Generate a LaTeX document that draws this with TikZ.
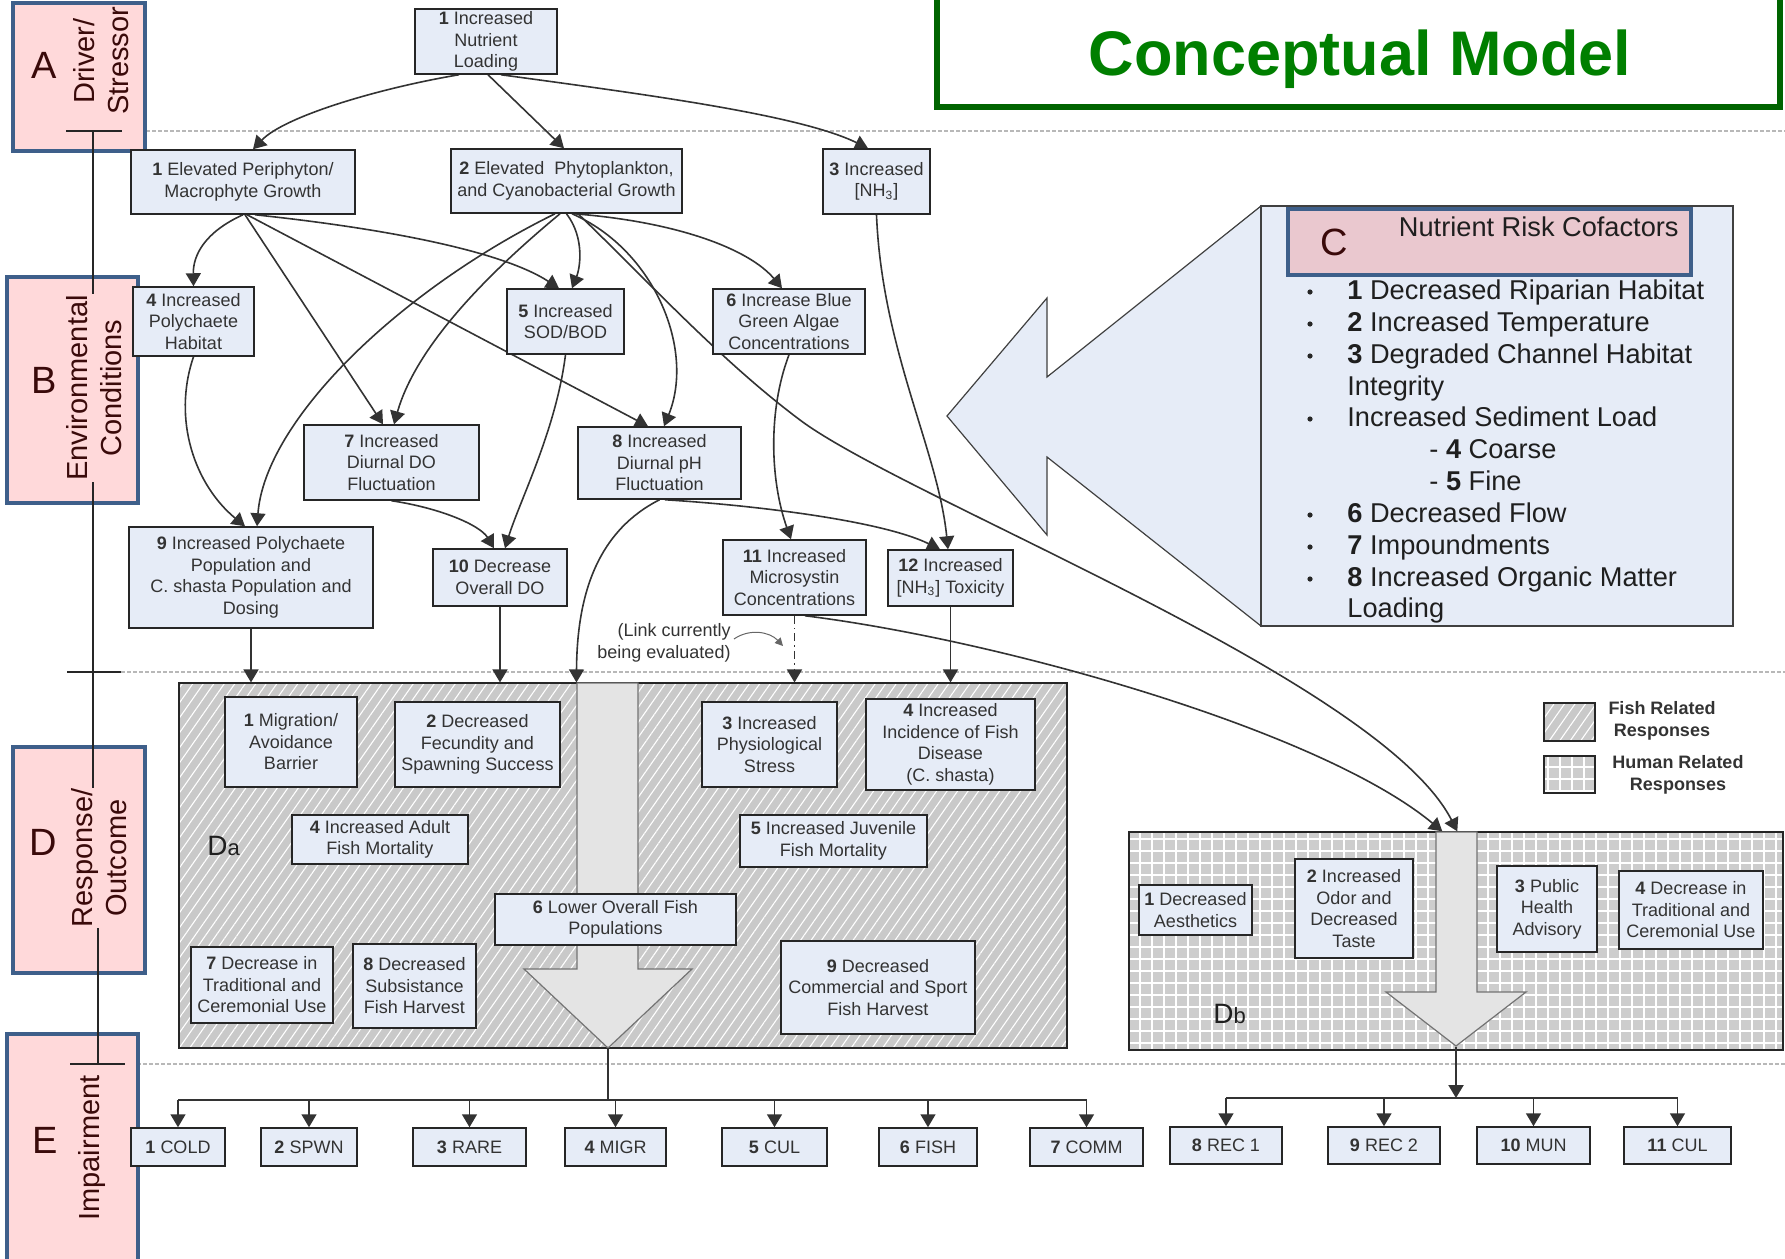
\documentclass[tikz,border=0pt]{standalone}
\usepackage{fontspec}
\setmainfont{Liberation Sans}
\usetikzlibrary{arrows.meta,patterns.meta,calc}
\pgfdeclarelayer{bg}
\pgfdeclarelayer{conn}
\pgfsetlayers{bg,conn,main}
\definecolor{boxfill}{HTML}{E6ECF7}
\definecolor{boxline}{HTML}{262626}
\definecolor{txt}{HTML}{333333}
\definecolor{lblfill}{HTML}{FFD9DA}
\definecolor{lblline}{HTML}{3E5F8A}
\definecolor{lbltxt}{HTML}{3A0A0A}
\definecolor{cfill}{HTML}{EAC8CF}
\definecolor{arrc}{HTML}{333333}
\definecolor{hatchg}{HTML}{C9C9C9}
\definecolor{gridg}{HTML}{CDCDCD}
\definecolor{bigarr}{HTML}{E4E4E4}
\definecolor{titleg}{HTML}{007F00}
\definecolor{titleb}{HTML}{006400}
\definecolor{dashc}{HTML}{B8B8B8}
\newcommand\mkbox[7][bx]{\node[#1,minimum width={(#5-#3)*0.5pt},minimum height={(#6-#4)*0.5pt}] (#2) at ({(#3+#5)/2},{(#4+#6)/2}) {#7};}
\begin{document}
\begin{tikzpicture}[x=0.5pt,y=-0.5pt,
  bx/.style={draw=boxline, fill=boxfill, line width=0.75pt, align=center, font=\fontsize{9}{10.75}\selectfont, text=txt, inner sep=1pt},
  arr/.style={draw=arrc, line width=0.8pt, -{Triangle[length=6.5pt,width=7.5pt]}},
  smallarr/.style={draw=black!60, line width=0.5pt, -{Triangle[length=4pt,width=4pt]}},
  lbl/.style={draw=lblline, fill=lblfill, line width=2.2pt},
  lbltext/.style={text=lbltxt, font=\fontsize{14.5}{17}\selectfont, align=center, rotate=90, fill=lblfill, inner sep=0.5pt},
  bigl/.style={text=lbltxt, font=\fontsize{19}{19}\selectfont, inner sep=0pt},
  tl/.style={draw=black!85, line width=0.55pt},
  dashl/.style={draw=dashc, line width=0.6pt, dash pattern=on 2pt off 1pt},
  fishbg/.style={draw=boxline, line width=0.9pt, preaction={fill=hatchg}, pattern={Lines[angle=55,distance=4.3pt,line width=0.55pt]}, pattern color=white},
  humanbg/.style={draw=boxline, line width=0.9pt, preaction={fill=gridg}, pattern={Hatch[angle=0,distance=6pt,line width=0.7pt]}, pattern color=white},
  bigarrow/.style={draw=black!55, fill=bigarr, line width=0.6pt},
  barl/.style={draw=arrc, line width=1.1pt},
  titlebox/.style={draw=titleb, fill=white, line width=3pt},
  titletext/.style={text=titleg, font=\fontsize{31.5}{32}\selectfont\bfseries, inner sep=0pt},
  cpan/.style={draw=black!75, fill=boxfill, line width=0.6pt},
  chead/.style={draw=lblline, fill=cfill, line width=2pt},
  ctxt/.style={font=\fontsize{13.6}{16}\selectfont, text=black!88, inner sep=0pt},
  legtxt/.style={font=\fontsize{9}{11}\selectfont\bfseries, text=txt, align=center, inner sep=0pt},
  dlbl/.style={font=\fontsize{14}{14}\selectfont, text=black!88, inner sep=0pt}
]
\useasboundingbox (0,0) rectangle (1785,1259);

\begin{pgfonlayer}{bg}
% dashed separators
\draw[dashl] (122,131) -- (1785,131);
\draw[dashl] (121,672) -- (1785,672);
\draw[dashl] (125,1064) -- (1785,1064);
% C panel
\draw[cpan] (1261,206) -- (1047,377) -- (1047,298) -- (947,416) -- (1047,535) -- (1047,457) -- (1261,626) -- cycle;
\mkbox[cpan]{cpanel}{1261}{206}{1733}{626}{}
% D backgrounds
\mkbox[fishbg]{da}{179}{683}{1067}{1048}{}
\mkbox[humanbg]{db}{1129}{832}{1783}{1050}{}
\draw[bigarrow] (577,683) -- (577,969) -- (524,969) -- (608,1048) -- (692,969) -- (638,969) -- (638,683) -- cycle;
\draw[bigarrow] (1436,832) -- (1436,992) -- (1386,992) -- (1456,1046) -- (1526,992) -- (1477,992) -- (1477,832) -- cycle;
\end{pgfonlayer}

% title
\mkbox[titlebox]{titlebox}{937}{-20}{1780}{107}{}
\node[titletext, anchor=base] (title) at (1360,75) {Conceptual Model};

% left labels
\mkbox[lbl]{lA}{13}{3}{145}{151}{}
\mkbox[lbl]{lB}{7}{277}{138}{503}{}
\mkbox[lbl]{lD}{13}{747}{145}{973}{}
\mkbox[lbl]{lE}{7}{1034}{138}{1275}{}
\draw[tl] (93,131) -- (93,860) -- (98,860) -- (98,1064);
\draw[tl] (66,131) -- (122,131);
\draw[tl] (67,672) -- (121,672);
\draw[tl] (70,1064) -- (125,1064);
\node[bigl] (A) at (44,65) {A};
\node[lbltext] (tA) at (101.5,61) {Driver/\\Stressor};
\node[bigl] (B) at (44,380) {B};
\node[lbltext] (tB) at (94,388) {Environmental\\Conditions};
\node[bigl] (D) at (43,842) {D};
\node[lbltext] (tD) at (99.5,858) {Response/\\Outcome};
\node[bigl] (E) at (45,1140) {E};
\node[lbltext] (tE) at (92,1148) {Impairment};

% C panel content
\mkbox[chead]{chead}{1288}{209}{1691}{275}{}
\node[bigl] (C) at (1334,242) {C};
\node[ctxt, anchor=base east] (chtxt) at (1679,236) {Nutrient Risk Cofactors};
\foreach \yy in {299,331,363,426,522,554,586} \fill[black!85] (1310,{\yy-7}) circle (1.3pt);
\node[ctxt, anchor=base west] (c1) at (1347,299) {\textbf{1} Decreased Riparian Habitat};
\node[ctxt, anchor=base west] (c2) at (1347,331) {\textbf{2} Increased Temperature};
\node[ctxt, anchor=base west] (c3) at (1347,363) {\textbf{3} Degraded Channel Habitat};
\node[ctxt, anchor=base west] (c3b) at (1347,395) {Integrity};
\node[ctxt, anchor=base west] (cs) at (1347,426) {Increased Sediment Load};
\node[ctxt, anchor=base west] (c4) at (1429,458) {- \textbf{4} Coarse};
\node[ctxt, anchor=base west] (c5) at (1429,490) {- \textbf{5} Fine};
\node[ctxt, anchor=base west] (c6) at (1347,522) {\textbf{6} Decreased Flow};
\node[ctxt, anchor=base west] (c7) at (1347,554) {\textbf{7} Impoundments};
\node[ctxt, anchor=base west] (c8) at (1347,586) {\textbf{8} Increased Organic Matter};
\node[ctxt, anchor=base west] (c8b) at (1347,617) {Loading};

\coordinate (datip) at (608,1048);
\coordinate (dbtip) at (1456,1047);
\node[dlbl, anchor=base west] (dalbl) at (207,855) {D{\fontsize{11}{11}\selectfont a}};
\node[dlbl, anchor=base west] (dblbl) at (1213,1023) {D{\fontsize{11}{11}\selectfont b}};

% legend
\mkbox[fishbg]{lg1}{1544}{703}{1595}{741}{}
\mkbox[humanbg]{lg2}{1544}{756}{1595}{793}{}
\node[legtxt] (lg1t) at (1662,721) {Fish Related\\Responses};
\node[legtxt] (lg2t) at (1678,775) {Human Related\\Responses};

% row A / B boxes
\mkbox{n1}{415}{9}{557}{74}{\textbf{1} Increased\\Nutrient\\Loading}
\mkbox{e1}{131}{150}{355}{214}{\textbf{1} Elevated Periphyton/\\Macrophyte Growth}
\mkbox{e2}{451}{149}{682}{213}{\textbf{2} Elevated\ \ Phytoplankton,\\and Cyanobacterial Growth}
\mkbox{e3}{823}{149}{930}{214}{\textbf{3} Increased\\{[NH\textsubscript{3}]}}
\mkbox{b4}{133}{287}{254}{356}{\textbf{4} Increased\\Polychaete\\Habitat}
\mkbox{b5}{507}{289}{624}{354}{\textbf{5} Increased\\SOD/BOD}
\mkbox{b6}{713}{289}{865}{354}{\textbf{6} Increase Blue\\Green Algae\\Concentrations}
\mkbox{b7}{304}{425}{479}{500}{\textbf{7} Increased\\Diurnal DO\\Fluctuation}
\mkbox{b8}{578}{427}{741}{499}{\textbf{8} Increased\\Diurnal pH\\Fluctuation}
\mkbox{b9}{129}{527}{373}{628}{\textbf{9} Increased Polychaete\\Population and\\C. shasta Population and\\Dosing}
\mkbox{b10}{433}{549}{567}{606}{\textbf{10} Decrease\\Overall DO}
\mkbox{b11}{723}{540}{866}{615}{\textbf{11} Increased\\Microsystin\\Concentrations}
\mkbox{b12}{888}{550}{1013}{606}{\textbf{12} Increased\\{[NH\textsubscript{3}]} Toxicity}

% Da boxes
\mkbox{d1}{225}{697}{357}{787}{\textbf{1} Migration/\\Avoidance\\Barrier}
\mkbox{d2}{395}{702}{560}{787}{\textbf{2} Decreased\\Fecundity and\\Spawning Success}
\mkbox{d3}{702}{702}{837}{787}{\textbf{3} Increased\\Physiological\\Stress}
\mkbox{d4f}{866}{699}{1035}{790}{\textbf{4} Increased\\Incidence of Fish\\Disease\\(C. shasta)}
\mkbox{d4}{292}{815}{468}{864}{\textbf{4} Increased Adult\\Fish Mortality}
\mkbox{d5}{740}{815}{927}{867}{\textbf{5} Increased Juvenile\\Fish Mortality}
\mkbox{d6}{495}{894}{736}{945}{\textbf{6} Lower Overall Fish\\Populations}
\mkbox{d7}{191}{947}{333}{1023}{\textbf{7} Decrease in\\Traditional and\\Ceremonial Use}
\mkbox{d8}{353}{944}{476}{1028}{\textbf{8} Decreased\\Subsistance\\Fish Harvest}
\mkbox{d9}{781}{941}{975}{1034}{\textbf{9} Decreased\\Commercial and Sport\\Fish Harvest}

% Db boxes
\mkbox{h1}{1139}{885}{1252}{935}{\textbf{1} Decreased\\Aesthetics}
\mkbox{h2}{1295}{859}{1413}{958}{\textbf{2} Increased\\Odor and\\Decreased\\Taste}
\mkbox{h3}{1497}{866}{1597}{952}{\textbf{3} Public\\Health\\Advisory}
\mkbox{h4}{1619}{871}{1763}{949}{\textbf{4} Decrease in\\Traditional and\\Ceremonial Use}

% E row
\mkbox{cold}{131}{1128}{225}{1166}{\textbf{1} COLD}
\mkbox{spwn}{261}{1128}{357}{1166}{\textbf{2} SPWN}
\mkbox{rare}{413}{1128}{526}{1166}{\textbf{3} RARE}
\mkbox{migr}{565}{1128}{666}{1166}{\textbf{4} MIGR}
\mkbox{cul}{722}{1128}{827}{1166}{\textbf{5} CUL}
\mkbox{fish}{879}{1128}{977}{1166}{\textbf{6} FISH}
\mkbox{comm}{1030}{1128}{1143}{1166}{\textbf{7} COMM}
\mkbox{rec1}{1170}{1127}{1282}{1164}{\textbf{8} REC 1}
\mkbox{rec2}{1328}{1127}{1440}{1164}{\textbf{9} REC 2}
\mkbox{mun}{1477}{1127}{1590}{1164}{\textbf{10} MUN}
\mkbox{cul2}{1624}{1127}{1731}{1164}{\textbf{11} CUL}

\node[font=\fontsize{9}{10.75}\selectfont, text=txt, align=right, inner sep=0pt] (linklbl) at (664,643) {(Link currently\\being evaluated)};
\coordinate (linktip) at (783,646);

% connectors (behind boxes)
\begin{pgfonlayer}{conn}
\draw[arr] ($(n1.south)+(-27,0)$) .. controls (380,88) and (285,116) .. ($(e1.north)+(10,0)$);
\draw[arr] ($(n1.south)+(2,0)$) -- ($(e2.north)+(-2.5,0)$);
\draw[arr] ($(n1.south)+(15,0)$) .. controls (650,95) and (800,115) .. ($(e3.north)+(-8.5,0)$);
\draw[arr] (e1.south) .. controls (205,232) and (193,255) .. (b4.north);
\draw[arr] ($(e1.south)+(2,0)$) -- ($(b7.north)+(-8.5,0)$);
\draw[arr] ($(e1.south)+(4,0)$) -- ($(b8.north)+(-11.5,0)$);
\draw[arr] ($(e1.south)+(12,0)$) .. controls (380,228) and (500,250) .. ($(b5.north)+(-6.5,0)$);
\draw[arr] (e2.south) .. controls (585,238) and (580,268) .. ($(b5.north)+(6.5,0)$);
\draw[arr] ($(e2.south)+(7.5,0)$) .. controls (680,222) and (750,250) .. ($(b6.north)+(-7,0)$);
\draw[arr] ($(e2.south)+(-6.5,0)$) .. controls (480,280) and (415,350) .. ($(b7.north)+(2.5,0)$);
\draw[arr] ($(e2.south)+(-11.5,0)$) .. controls (400,290) and (265,420) .. ($(b9.north)+(6,0)$);
\draw[arr] ($(e2.south)+(5.5,0)$) .. controls (655,250) and (695,350) .. ($(b8.north)+(4.5,0)$);
\draw[arr] ($(e2.south)+(11.5,0)$) .. controls (650,283) and (720,360) .. (800,420) .. controls (907,500) and (1380,680) .. ($(db.north west)+(329,0)$);
\draw[arr] (e3.south) .. controls (882,350) and (938,450) .. ($(b12.north)+(-2.5,0)$);
\draw[arr] (b4.south) .. controls (172,420) and (195,485) .. ($(b9.north)+(-6,0)$);
\draw[arr] (b5.south) .. controls (556,430) and (520,500) .. ($(b10.north)+(5,0)$);
\draw[arr] (b6.south) .. controls (768,410) and (770,480) .. ($(b11.north)+(-3.5,0)$);
\draw[arr] (b7.south) .. controls (440,508) and (480,525) .. ($(b10.north)+(-6,0)$);
\draw[arr] (b8.south) .. controls (600,530) and (577,590) .. ($(da.north west)+(398,0)$);
\draw[arr] ($(b8.south)+(5.5,0)$) .. controls (750,505) and (880,520) .. ($(b12.north)+(-10.5,0)$);
\draw[arr] (b9.south) -- (b9.south |- da.north);
\draw[arr] (b10.south) -- (b10.south |- da.north);
\draw[arr, dash pattern=on 4pt off 2pt on 0.8pt off 2pt] (b11.south) -- (b11.south |- da.north);
\draw[arr] (b12.south) -- (b12.south |- da.north);
\draw[arr] ($(b11.south)+(10.5,0)$) .. controls (1000,640) and (1320,730) .. ($(db.north west)+(314,0)$);
\draw[smallarr] ($(linklbl.east)+(3,-4)$) .. controls (750,628) and (770,632) .. (linktip);
\coordinate (lbar) at (608,1100);
\draw[barl] (datip) -- (lbar);
\draw[barl] (cold.north |- lbar) -- (comm.north |- lbar);
\foreach \n in {cold,spwn,rare,migr,cul,fish,comm} \draw[arr] (\n.north |- lbar) -- (\n.north);
\coordinate (rbar) at (1456,1098);
\draw[arr, line width=1.1pt] (dbtip) -- (rbar);
\draw[barl] (rec1.north |- rbar) -- (cul2.north |- rbar);
\foreach \n in {rec1,rec2,mun,cul2} \draw[arr] (\n.north |- rbar) -- (\n.north);
\end{pgfonlayer}
\end{tikzpicture}
\end{document}
